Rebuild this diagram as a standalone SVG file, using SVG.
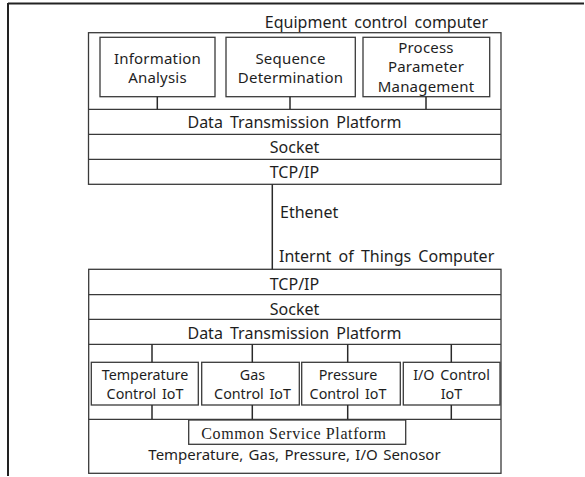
<svg xmlns="http://www.w3.org/2000/svg" width="585" height="477" viewBox="0 0 585 477">
<style>
.b{fill:none;stroke:#3a3a3a;stroke-width:1.3}
.l{stroke:#2a2a2a;stroke-width:1.5;fill:none}
text{font-family:"Noto Sans","DejaVu Sans",sans-serif;font-size:16px;word-spacing:3px;fill:#1e1e1e}
.c{text-anchor:middle}
.m{font-size:15px;word-spacing:2px;letter-spacing:0.2px}
.k{font-size:14.3px;word-spacing:2px}
.s{font-family:"Liberation Serif","DejaVu Serif",serif;font-size:16px;letter-spacing:0.6px;word-spacing:0}
.t{font-size:15px;word-spacing:1.5px}
</style>
<rect width="585" height="477" fill="#fff"/>
<g id="frame">
<line x1="8" y1="3.5" x2="584" y2="3.5" stroke="#222" stroke-width="2"/>
<line x1="8" y1="3" x2="8" y2="476" stroke="#222" stroke-width="2"/>
</g>
<g id="equipment-computer">
<text x="488" y="28" text-anchor="end">Equipment control computer</text>
<rect class="b" x="88.5" y="32.7" width="412.5" height="151.6"/>
<line class="b" x1="88.5" y1="109.3" x2="501" y2="109.3"/>
<line class="b" x1="88.5" y1="134.3" x2="501" y2="134.3"/>
<line class="b" x1="88.5" y1="159.3" x2="501" y2="159.3"/>
</g>
<g id="information-analysis">
<rect class="b" x="100" y="37.3" width="115" height="59.4"/>
<text class="c m" x="157.5" y="63.5">Information</text>
<text class="c m" x="157.5" y="82.5">Analysis</text>
</g>
<g id="sequence-determination">
<rect class="b" x="226" y="37.3" width="129.3" height="59.4"/>
<text class="c m" x="290.5" y="63.5">Sequence</text>
<text class="c m" x="290.5" y="82.5">Determination</text>
</g>
<g id="process-parameter-management">
<rect class="b" x="363" y="37.3" width="126.7" height="59.4"/>
<text class="c m" x="426" y="53">Process</text>
<text class="c m" x="426" y="72.3">Parameter</text>
<text class="c m" x="426" y="91.6">Management</text>
</g>
<g id="upper-dtp"><text class="c" x="294.5" y="128">Data Transmission Platform</text></g>
<g id="upper-socket"><text class="c" x="294.5" y="153">Socket</text></g>
<g id="upper-tcpip"><text class="c" x="294.5" y="177.5">TCP/IP</text></g>

<g id="iot-computer">
<text x="279" y="261.5">Internt of Things Computer</text>
<rect class="b" x="88.7" y="269.3" width="412.3" height="204"/>
<line class="b" x1="88.7" y1="294.7" x2="501" y2="294.7"/>
<line class="b" x1="88.7" y1="319.3" x2="501" y2="319.3"/>
<line class="b" x1="88.7" y1="344.3" x2="501" y2="344.3"/>
<line class="b" x1="88.7" y1="419.3" x2="501" y2="419.3"/>
</g>
<g id="lower-tcpip"><text class="c" x="294.5" y="290">TCP/IP</text></g>
<g id="lower-socket"><text class="c" x="294.5" y="314.5">Socket</text></g>
<g id="lower-dtp"><text class="c" x="294.5" y="338.5">Data Transmission Platform</text></g>
<g id="temperature-control-iot">
<rect class="b" x="91.3" y="362.3" width="107" height="42.7"/>
<text class="c k" x="145" y="380">Temperature</text>
<text class="c k" x="145" y="398.5">Control IoT</text>
</g>
<g id="gas-control-iot">
<rect class="b" x="201.7" y="362.3" width="97.6" height="42.7"/>
<text class="c k" x="252.5" y="380">Gas</text>
<text class="c k" x="252.5" y="398.5">Control IoT</text>
</g>
<g id="pressure-control-iot">
<rect class="b" x="301.7" y="362.3" width="98.6" height="42.7"/>
<text class="c k" x="348" y="380">Pressure</text>
<text class="c k" x="348" y="398.5">Control IoT</text>
</g>
<g id="io-control-iot">
<rect class="b" x="403.3" y="362.3" width="96.7" height="42.7"/>
<text class="c k" x="451.5" y="380">I/O Control</text>
<text class="c k" x="451.5" y="398.5">IoT</text>
</g>
<g id="common-service-platform">
<rect class="b" x="188.7" y="420" width="217" height="24.3"/>
<text class="c s" x="294" y="438.5">Common Service Platform</text>
</g>
<g id="sensors"><text class="c t" x="294.5" y="460">Temperature, Gas, Pressure, I/O Senosor</text></g>

<g id="connectors">
<line class="l" x1="157.3" y1="96.7" x2="157.3" y2="109.3"/>
<line class="l" x1="290" y1="96.7" x2="290" y2="109.3"/>
<line class="l" x1="426" y1="96.7" x2="426" y2="109.3"/>
<line class="l" x1="272.3" y1="184.3" x2="272.3" y2="269.3"/>
<text x="280" y="218">Ethenet</text>
<line class="l" x1="152" y1="344.3" x2="152" y2="362.3"/>
<line class="l" x1="252.3" y1="344.3" x2="252.3" y2="362.3"/>
<line class="l" x1="347.7" y1="344.3" x2="347.7" y2="362.3"/>
<line class="l" x1="451.3" y1="344.3" x2="451.3" y2="362.3"/>
<line class="l" x1="152" y1="405" x2="152" y2="419.3"/>
<line class="l" x1="252.3" y1="405" x2="252.3" y2="419.3"/>
<line class="l" x1="347.7" y1="405" x2="347.7" y2="419.3"/>
<line class="l" x1="451.3" y1="405" x2="451.3" y2="419.3"/>
</g>
</svg>
